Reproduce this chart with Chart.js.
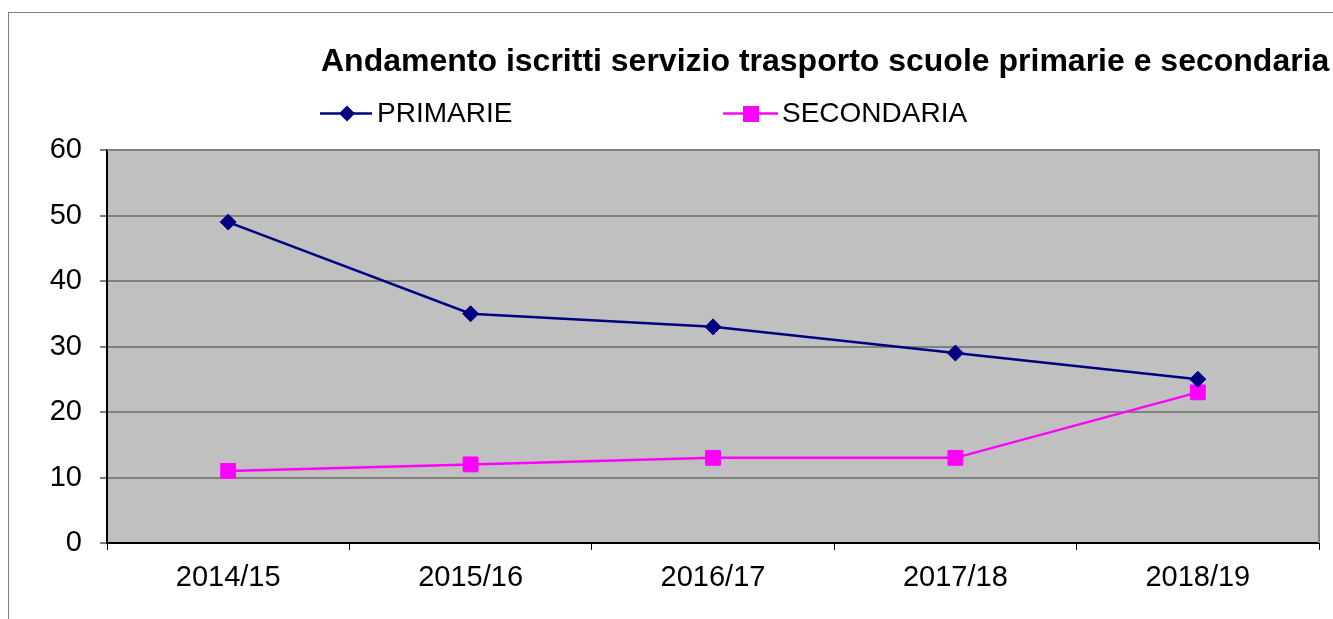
<!DOCTYPE html>
<html>
<head>
<meta charset="utf-8">
<script src="https://cdn.jsdelivr.net/npm/chart.js@4"></script>
<style>
  html, body { margin: 0; padding: 0; background: #fff; overflow: hidden; }
  body { width: 1333px; height: 619px; position: relative; font-family: "Liberation Sans", Arial, sans-serif; }
  #frame { position: absolute; left: 8px; top: 12px; width: 1400px; height: 700px;
           border-left: 1.5px solid #7f7f7f; border-top: 1.5px solid #7f7f7f; }
  #wrap { position: absolute; left: 0; top: 0; width: 1333px; height: 619px; }
  .title { position: absolute; left: 321px; top: 44px; font-size: 32px; line-height: 32px;
           font-weight: bold; color: #000; white-space: nowrap; }
  .leg { position: absolute; top: 99px; font-size: 28px; line-height: 28px; color: #000; white-space: nowrap; }
  .leg svg { position: absolute; left: 0; top: 0; }
</style>
</head>
<body>
<div id="frame"></div>
<div id="wrap"><canvas id="chart" width="1333" height="619"></canvas></div>
<div class="title">Andamento iscritti servizio trasporto scuole primarie e secondaria</div>
<div class="leg" style="left:320px">
  <svg width="56" height="28"><line x1="0" y1="14.5" x2="52" y2="14.5" stroke="#000080" stroke-width="2.5"/>
    <polygon points="27,6.5 35,14.5 27,22.5 19,14.5" fill="#000080"/></svg>
  <span style="position:absolute;left:57px;top:0">PRIMARIE</span>
</div>
<div class="leg" style="left:723px">
  <svg width="58" height="28"><line x1="0" y1="14.5" x2="55" y2="14.5" stroke="#ff00ff" stroke-width="2.5"/>
    <rect x="20" y="7" width="16" height="16" fill="#ff00ff"/></svg>
  <span style="position:absolute;left:59px;top:0">SECONDARIA</span>
</div>
<script>
'use strict';

var categories = ['2014/15', '2015/16', '2016/17', '2017/18', '2018/19'];
var primarie   = [49, 35, 33, 29, 25];
var secondaria = [11, 12, 13, 13, 23];
var yTicks     = [0, 10, 20, 30, 40, 50, 60];

var FONT = '"Liberation Sans", Arial, sans-serif';

// grey plot background plus the grey top/right frame
var plotFrame = {
  id: 'plotFrame',
  beforeDraw: function (chart) {
    var a = chart.chartArea, c = chart.ctx;
    c.save();
    c.fillStyle = '#c0c0c0';
    c.fillRect(a.left, a.top, a.right - a.left, a.bottom - a.top);
    c.restore();
  },
  beforeDatasetsDraw: function (chart) {
    var a = chart.chartArea, c = chart.ctx;
    c.save();
    c.strokeStyle = '#808080';
    c.lineWidth = 2;
    c.beginPath();
    c.moveTo(a.left, a.top);
    c.lineTo(a.right, a.top);
    c.lineTo(a.right, a.bottom);
    c.stroke();
    c.restore();
  }
};

new Chart(document.getElementById('chart'), {
  type: 'line',
  data: {
    labels: categories,
    datasets: [
      { label: 'PRIMARIE', data: primarie, borderColor: '#000080', backgroundColor: '#000080',
        borderWidth: 2.5, pointStyle: 'rectRot', pointRadius: 8, pointBorderWidth: 1, tension: 0 },
      { label: 'SECONDARIA', data: secondaria, borderColor: '#ff00ff', backgroundColor: '#ff00ff',
        borderWidth: 2.5, pointStyle: 'rect', pointRadius: 10.5, pointBorderWidth: 1, tension: 0 }
    ]
  },
  options: {
    responsive: false,
    animation: false,
    devicePixelRatio: 1,
    layout: { padding: { top: 150, right: 14, left: 0, bottom: 0 } },
    plugins: { legend: { display: false }, title: { display: false }, tooltip: { enabled: false } },
    scales: {
      x: {
        offset: true,
        afterFit: function (s) { s.height = 76; },
        grid: { offset: true, drawOnChartArea: false, drawTicks: true, tickLength: 7, color: '#000', lineWidth: 1 },
        border: { display: true, color: '#000', width: 2 },
        ticks: { color: '#000', padding: 11, font: { family: FONT, size: 29 } }
      },
      y: {
        min: 0, max: 60,
        afterFit: function (s) { s.width = 107; },
        afterBuildTicks: function (s) { s.ticks = yTicks.map(function (v) { return { value: v }; }); },
        grid: {
          color: function (ctx) { return ctx.tick && ctx.tick.value === 0 ? '#000' : '#808080'; },
          lineWidth: 2, tickColor: '#000', tickWidth: 1, tickLength: 7
        },
        border: { display: true, color: '#000', width: 2 },
        ticks: { color: '#000', padding: 18, font: { family: FONT, size: 29 } }
      }
    }
  },
  plugins: [plotFrame]
});
</script>
</body>
</html>
